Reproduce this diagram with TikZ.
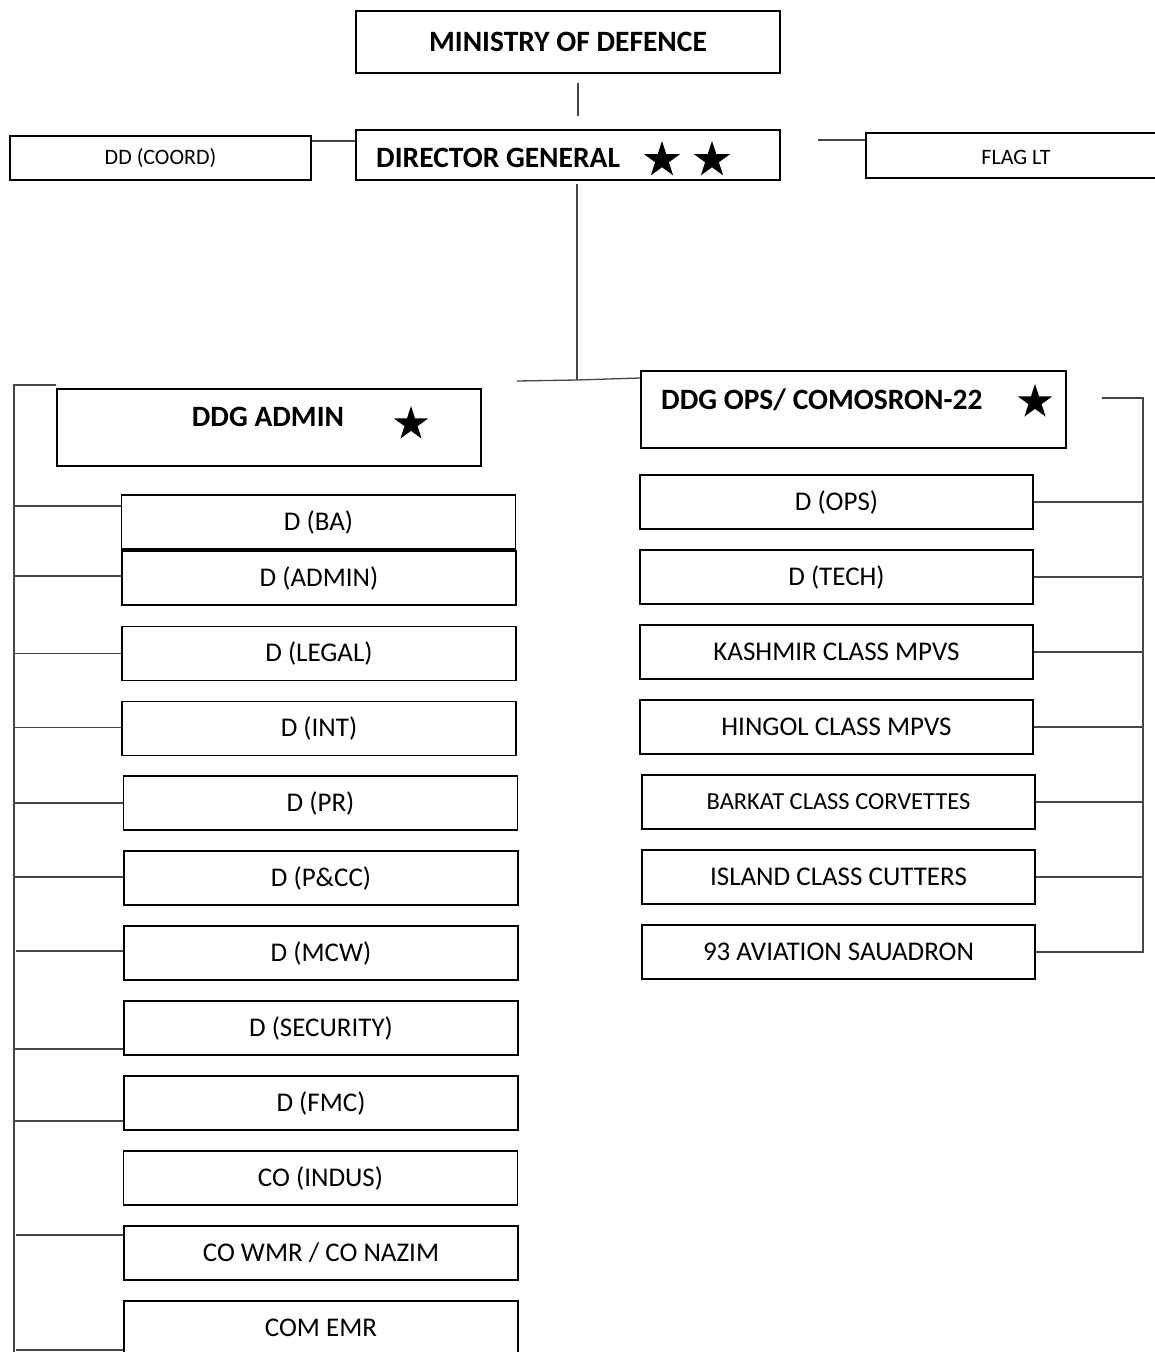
\documentclass[tikz,border=0pt]{standalone}
\usepackage{fontspec}
\setmainfont{Carlito}
\usetikzlibrary{shapes.geometric}
\begin{document}
\begin{tikzpicture}[x=1pt,y=-1pt,
  box/.style={draw=black,line width=1.8pt,inner sep=0pt,minimum width=394pt,minimum height=54pt,font=\fontsize{27}{32}\selectfont},
  conn/.style={draw=black!72,line width=1.3pt},
  bfont/.style={font=\bfseries\fontsize{29.5}{34}\selectfont,inner sep=0pt},
  rankstar/.style={star,star points=5,star point ratio=2.618,fill=black,draw=none,inner sep=0pt,minimum size=38pt}]
\path[use as bounding box] (0,0) rectangle (1155,1352);

% top level
\node[box,minimum width=424pt,minimum height=62pt,font=\bfseries\fontsize{29.5}{34}\selectfont] (mod) at (568,42) {MINISTRY OF DEFENCE};
\node[box,minimum width=424pt,minimum height=50pt] (dg) at (568,155) {};
\node[bfont,anchor=west] (dgt) at (376,158) {DIRECTOR GENERAL};
\node[rankstar] (dgs1) at (662,160) {};
\node[rankstar] (dgs2) at (712,160) {};
\node[box,minimum width=301pt,minimum height=44pt,font=\fontsize{22}{26}\selectfont] (dd) at (160.5,158) {DD (COORD)};
\node[box,minimum width=300pt,minimum height=45pt] (flag) at (1016,155.5) {};
\node[font=\fontsize{22}{26}\selectfont] (flagt) at (1016,157) {FLAG LT};

\draw[conn] ([xshift=10pt,yshift=-9pt]mod.south) -- ([xshift=10pt,yshift=13pt]dg.north);
\draw[conn] ([yshift=17pt]dd.east) coordinate (t1) -- (t1 -| dg.west);
\coordinate (flc) at (818,140);
\draw[conn] (flc) -- (flc -| flag.west);

% deputy level
\node[box,minimum width=424pt,minimum height=77pt] (adm) at (269,427.5) {};
\node[bfont] (admt) at (268,417) {DDG ADMIN};
\node[rankstar,minimum size=36pt] (adms) at (411,424) {};
\node[box,minimum width=425pt,minimum height=77pt] (ops) at (853.5,409.5) {};
\node[bfont,anchor=west] (opst) at (661,400) {DDG OPS/ COMOSRON-22};
\node[rankstar,minimum size=36pt] (opss) at (1035,402) {};

\coordinate (junc) at (577,380);
\coordinate (jl) at (517,381);
\draw[conn] ([xshift=9pt,yshift=-3pt]dg.south) -- (junc);
\draw[conn] (jl) -- (junc) -- ([yshift=31.5pt]ops.west);

% left branch
\node[box] (ba)   at (318.5,522) {D (BA)};
\node[box] (dad)  at (319,578) {D (ADMIN)};
\node[box] (leg)  at (319,653.5) {D (LEGAL)};
\node[box] (int)  at (319,728.5) {D (INT)};
\node[box] (pr)   at (320.5,803) {D (PR)};
\node[box] (pcc)  at (321,878) {D (P\&CC)};
\node[box] (mcw)  at (321,953) {D (MCW)};
\node[box] (sec)  at (321,1028) {D (SECURITY)};
\node[box] (fmc)  at (321,1103) {D (FMC)};
\node[box] (ind)  at (320.5,1178) {CO (INDUS)};
\node[box] (wmr)  at (321,1253) {CO WMR / CO NAZIM};
\node[box] (emr)  at (321,1328) {COM EMR};

\coordinate (lt) at (14,385);
\coordinate (lb) at (14,1356);
\draw[conn] (adm.north west |- lt) -- (lt) -- (lb);
\draw[conn] ([yshift=16pt]ba.west) coordinate (a1) -- (a1 -| lt);
\draw[conn] ([yshift=2pt]dad.west) coordinate (a2) -- (a2 -| lt);
\draw[conn] (leg.west) coordinate (a3) -- (a3 -| lt);
\draw[conn] ([yshift=1pt]int.west) coordinate (a4) -- (a4 -| lt);
\draw[conn] (pr.west) coordinate (a5) -- (a5 -| lt);
\draw[conn] ([yshift=1pt]pcc.west) coordinate (a6) -- (a6 -| lt);
\draw[conn] ([yshift=2pt]mcw.west) coordinate (a7) -- ([xshift=2pt]a7 -| lt);
\draw[conn] ([yshift=-21pt]sec.west) coordinate (a8) -- (a8 -| lt);
\draw[conn] ([yshift=-18pt]fmc.west) coordinate (a9) -- (a9 -| lt);
\draw[conn] ([yshift=18pt]wmr.west) coordinate (a10) -- ([xshift=2pt]a10 -| lt);
\draw[conn] ([yshift=-22pt]emr.west) coordinate (a11) -- ([xshift=2pt]a11 -| lt);

% right branch
\node[box,minimum width=393pt] (dops) at (836.5,502) {D (OPS)};
\node[box,minimum width=393pt] (tech) at (836.5,577) {D (TECH)};
\node[box,minimum width=393pt] (kas)  at (836.5,652) {KASHMIR CLASS MPVS};
\node[box,minimum width=393pt] (hin)  at (836.5,727) {HINGOL CLASS MPVS};
\node[box,minimum width=393pt,font=\fontsize{24.5}{29}\selectfont] (bar) at (838.5,802) {BARKAT CLASS CORVETTES};
\node[box,minimum width=393pt] (isl)  at (838.5,877) {ISLAND CLASS CUTTERS};
\node[box,minimum width=393pt] (avn)  at (838.5,952) {93 AVIATION SAUADRON};

\coordinate (rs) at (1102,398);
\coordinate (rt) at (1143,398);
\draw[conn] (rs) -- (rt) -- ([yshift=-1pt]rt |- avn.east);
\foreach \c in {dops,tech,kas,hin,bar,isl,avn}
  \draw[conn] (\c.east) -- (\c.east -| rt);
\end{tikzpicture}
\end{document}
